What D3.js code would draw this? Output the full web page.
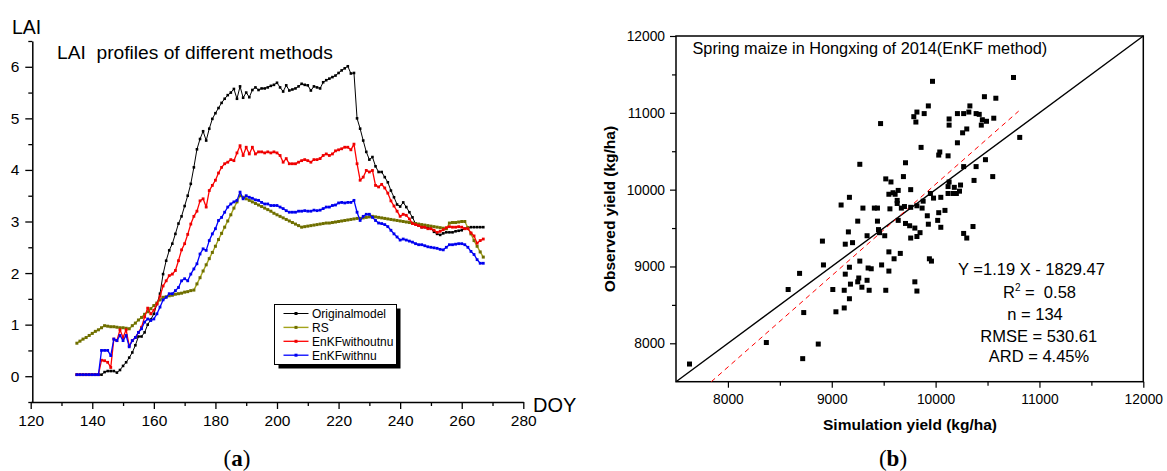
<!DOCTYPE html>
<html><head><meta charset="utf-8">
<script src="https://cdn.jsdelivr.net/npm/d3@7"></script>
<style>
body{margin:0;background:#fff}
svg{display:block}
text{font-family:Arial,"Liberation Sans",sans-serif;fill:#000;white-space:pre}
</style>
</head><body>
<svg id="c" width="1167" height="471"></svg>
<script>
// ---------- Panel (a) data ----------
const doyFirst = 135, doyLast = 267;
const seriesNames = ["Originalmodel","RS","EnKFwithoutnu","EnKFwithnu"];
const originalModel = [
0.03,0.03,0.03,0.03,0.03,0.03,0.03,0.03,0.03,
0.08,0.1,0.1,0.1,0.07,0.12,0.2,0.27,0.36,0.46,
0.6,0.77,0.77,0.85,1.0,1.1,1.21,1.4,1.6,1.98,
2.24,2.44,2.57,2.76,2.96,3.1,3.3,3.5,3.73,4.05,
4.4,4.6,4.75,4.57,4.8,4.99,5.1,5.2,5.3,5.38,
5.45,5.5,5.57,5.38,5.62,5.4,5.5,5.41,5.55,5.6,
5.55,5.58,5.58,5.6,5.63,5.65,5.69,5.6,5.52,5.64,
5.54,5.56,5.58,5.62,5.67,5.65,5.64,5.54,5.62,5.6,
5.58,5.7,5.74,5.77,5.8,5.83,5.88,5.93,5.97,6.01,
5.87,5.88,5.0,4.8,4.57,4.35,4.2,4.25,4.07,3.96,
3.96,3.86,3.76,3.6,3.47,3.33,3.29,3.37,3.28,3.18,
3.08,2.96,2.92,2.89,2.89,2.88,2.86,2.8,2.76,2.74,
2.77,2.79,2.79,2.79,2.81,2.82,2.83,2.86,2.88,2.89,
2.89,2.89,2.89,2.89];
const rsValues = [
0.64,0.68,0.72,0.75,0.79,0.83,0.87,0.9,0.94,0.98,
0.97,0.96,0.96,0.95,0.94,0.94,0.93,0.92,0.98,1.03,
1.09,1.14,1.2,1.25,1.31,1.37,1.42,1.48,1.53,1.54,
1.56,1.57,1.59,1.6,1.61,1.63,1.64,1.66,1.67,1.79,
1.91,2.04,2.16,2.28,2.4,2.52,2.65,2.77,2.89,3.01,
3.13,3.26,3.38,3.5,3.47,3.44,3.41,3.38,3.35,3.32,
3.29,3.26,3.23,3.2,3.16,3.13,3.1,3.07,3.04,3.01,
2.98,2.95,2.92,2.89,2.9,2.91,2.92,2.93,2.94,2.95,
2.96,2.97,2.97,2.98,2.99,3.0,3.01,3.02,3.03,3.04,
3.05,3.06,3.06,3.07,3.08,3.09,3.1,3.09,3.08,3.07,
3.06,3.05,3.04,3.03,3.02,3.01,3.0,2.99,2.98,2.97,
2.96,2.95,2.94,2.93,2.92,2.91,2.9,2.89,2.88,2.87,
2.86,2.97,2.98,2.98,2.99,3.0,3.0,2.88,2.76,2.63,
2.52,2.41,2.31];
const enkfWithoutNu = [
0.03,0.03,0.03,0.03,0.03,0.03,0.03,0.03,
0.31,0.3,0.27,0.17,0.72,0.69,0.9,0.75,0.9,0.59,
0.69,0.75,0.85,0.95,1.15,1.32,1.21,1.28,1.4,1.55,
1.75,1.85,1.95,1.98,2.05,2.24,2.45,2.57,2.75,2.95,
3.1,3.2,3.4,3.44,3.28,3.6,3.7,3.8,3.94,4.05,
4.12,4.15,4.2,4.18,4.33,4.47,4.28,4.44,4.31,4.44,
4.31,4.35,4.35,4.33,4.35,4.33,4.35,4.33,4.28,4.15,
4.22,4.12,4.12,4.12,4.15,4.18,4.2,4.18,4.15,4.2,
4.2,4.22,4.28,4.31,4.28,4.31,4.37,4.39,4.41,4.44,
4.44,4.39,4.5,4.12,3.8,3.86,3.99,3.96,3.99,3.7,
3.67,3.72,3.65,3.55,3.4,3.3,3.2,3.1,3.14,3.12,
3.05,2.96,2.94,2.92,2.89,2.89,2.86,2.86,2.83,2.79,
2.81,2.84,2.88,2.9,2.89,2.89,2.9,2.89,2.86,2.86,
2.78,2.72,2.58,2.63,2.66];
const enkfWithNu = [
0.03,0.03,0.03,0.03,0.03,0.03,0.03,0.03,
0.5,0.5,0.5,0.4,0.72,0.69,0.79,0.69,0.79,0.57,
0.69,0.75,0.85,0.92,1.05,1.11,1.08,1.11,1.21,1.34,
1.48,1.53,1.6,1.6,1.66,1.72,1.85,1.89,1.85,1.98,
2.08,2.18,2.37,2.47,2.44,2.63,2.76,2.86,3.02,3.08,
3.18,3.28,3.34,3.38,3.41,3.57,3.44,3.5,3.47,3.45,
3.42,3.41,3.37,3.34,3.34,3.31,3.31,3.31,3.28,3.25,
3.21,3.18,3.18,3.18,3.2,3.2,3.21,3.2,3.2,3.22,
3.21,3.22,3.25,3.28,3.28,3.31,3.32,3.36,3.37,3.36,
3.37,3.37,3.41,3.18,3.02,3.1,3.14,3.14,3.08,3.02,
2.97,2.96,2.94,2.9,2.83,2.76,2.7,2.64,2.66,2.64,
2.62,2.6,2.57,2.55,2.55,2.53,2.51,2.5,2.49,2.48,
2.46,2.45,2.5,2.55,2.55,2.56,2.57,2.57,2.55,2.5,
2.42,2.36,2.26,2.19,2.19];
const doyTicks = [120,140,160,180,200,220,240,260,280];
const laiTicks = [0,1,2,3,4,5,6];

// ---------- Panel (b) data ----------
const simulationYield = [
9470,9270,9520,9570,9170,9090,9300,9410,9440,9560,9550,9590,9610,9640,9630,9630,9250,9440,9640,9160,
9450,9460,9340,9510,8910,9130,9200,9550,9600,9660,9270,8920,9170,9350,9380,9480,8690,9130,9550,9260,
9340,9180,9250,9290,8580,9010,9120,9360,9520,9170,8730,9040,9120,8370,8870,8720,7630,
10750,9970,10470,10580,9930,9820,9890,9790,9810,10330,10210,10270,10320,10390,10420,10130,10130,10450,10490,10560,
10440,10300,10260,10810,10210,9860,10040,10030,10120,10480,9710,10270,10390,9690,10550,10370,10130,10120,10180,10240,
10230,10120,10170,10200,9760,9950,9980,10050,9880,9670,9700,9760,9820,9870,9920,10030,10090,9710,9750,9800,
9850,9930,10020,10050,9820,9760,10270,10300,10360,9940,9960,9800,9820];
const observedYield = [
10860,10330,10140,10100,9900,9800,9760,9760,9760,9750,9940,9960,9940,9990,9860,9820,9590,9590,9600,9450,
9480,9440,9400,9400,9330,9290,9310,9190,9100,9170,9070,9020,8990,8980,8970,9020,8910,8900,8940,8850,
8820,8770,8800,8730,8700,8700,8690,8690,8690,8580,8400,8410,8460,8010,7990,7800,7730,
11460,11410,11210,11190,11090,11010,10990,10950,10880,11090,10990,10990,11010,10990,10980,10920,10840,10910,10890,10930,
10840,10790,10740,10680,10610,10550,10490,10450,10440,10390,10350,10300,10300,10170,10170,10120,10100,10040,10030,10060,
9980,9950,9950,9950,10000,9950,9890,9900,9850,9760,9780,9770,9790,9760,9660,9700,9730,9560,9530,9500,
9440,9550,9600,9510,9390,9370,9430,9370,9520,9100,9070,8800,8680];
const yieldTicks = [8000,9000,10000,11000,12000];
const fitSlope = 1.19, fitIntercept = -1829.47;
const statsLines = ["Y =1.19 X - 1829.47","R","n = 134","RMSE = 530.61","ARD = 4.45%"];

// ---------- Drawing ----------
const svg = d3.select("#c");
const days = d3.range(doyFirst, doyLast + 1);
const FONT = "Arial, Liberation Sans, sans-serif";

// Panel (a)
const xA = d3.scaleLinear([120, 280], [30.7, 523.3]);
const yA = d3.scaleLinear([-0.5, 6.5], [402, 41]);
const gA = svg.append("g");

gA.append("g").attr("transform","translate(0,402)")
  .call(d3.axisBottom(xA).tickValues(d3.range(130,280,20)).tickSize(4).tickFormat("").tickSizeOuter(0))
  .call(g=>{g.select(".domain").remove(); g.selectAll("line").attr("stroke-width",1.3);});
gA.append("g").attr("transform","translate(32.3,0)")
  .call(d3.axisLeft(yA).tickValues(d3.range(-0.5,7,1)).tickSize(4).tickFormat("").tickSizeOuter(0))
  .call(g=>{g.select(".domain").remove(); g.selectAll("line").attr("stroke-width",1.3);});
gA.append("g").attr("transform","translate(0,402)")
  .call(d3.axisBottom(xA).tickValues(doyTicks).tickFormat(d3.format("d")).tickSize(7).tickSizeOuter(0).tickPadding(6))
  .call(g=>{g.select(".domain").attr("stroke-width",1.5); g.selectAll("line").attr("stroke-width",1.3);
            g.selectAll("text").attr("font-size",15.5).attr("font-family",FONT);});
gA.append("g").attr("transform","translate(32.3,0)")
  .call(d3.axisLeft(yA).tickValues(laiTicks).tickFormat(d3.format("d")).tickSize(7).tickSizeOuter(0).tickPadding(6))
  .call(g=>{g.select(".domain").attr("stroke-width",1.5); g.selectAll("line").attr("stroke-width",1.3);
            g.selectAll("text").attr("font-size",15.5).attr("font-family",FONT);});

gA.append("text").attr("x",12).attr("y",33.5).attr("font-size",19.5).text("LAI");
gA.append("text").attr("x",57).attr("y",59.3).attr("font-size",19.2).text("LAI  profiles of different methods");
gA.append("text").attr("x",533).attr("y",411.7).attr("font-size",20).text("DOY");

const seriesA = [
  {name: seriesNames[0], values: originalModel, color:"#000000", mc:"#000000", lw:1, ms:2.6},
  {name: seriesNames[1], values: rsValues, color:"#a3a31a", mc:"#6e6e00", lw:1.4, ms:3},
  {name: seriesNames[2], values: enkfWithoutNu, color:"#ff0000", mc:"#ee0000", lw:1.3, ms:2.8},
  {name: seriesNames[3], values: enkfWithNu, color:"#0000ff", mc:"#0000ee", lw:1.3, ms:2.8}
];
const lineA = d3.line().x((d,i)=>xA(days[i])).y(d=>yA(d));
seriesA.forEach(s=>{
  const g = gA.append("g");
  g.append("path").datum(s.values).attr("d",lineA).attr("fill","none")
   .attr("stroke",s.color).attr("stroke-width",s.lw).attr("stroke-linejoin","round");
  g.selectAll("rect").data(s.values).join("rect")
   .attr("x",(d,i)=>xA(days[i])-s.ms/2).attr("y",d=>yA(d)-s.ms/2)
   .attr("width",s.ms).attr("height",s.ms).attr("fill",s.mc);
});

// legend
const lg = gA.append("g");
lg.append("rect").attr("x",278.5).attr("y",308.5).attr("width",122).attr("height",60).attr("fill","#000");
lg.append("rect").attr("x",274.5).attr("y",304.5).attr("width",122).attr("height",60)
  .attr("fill","#fff").attr("stroke","#000").attr("stroke-width",1);
seriesA.forEach((s,i)=>{
  const y = 313.5 + i*13.9;
  lg.append("line").attr("x1",283.5).attr("x2",308.5).attr("y1",y).attr("y2",y)
    .attr("stroke",s.color).attr("stroke-width",s.lw);
  lg.append("rect").attr("x",296-1.5).attr("y",y-1.5).attr("width",3).attr("height",3).attr("fill",s.mc);
  lg.append("text").attr("x",312).attr("y",y).attr("dy","0.36em").attr("font-size",12).text(s.name);
});

// Panel (b)
const xB = d3.scaleLinear([7500, 12000], [676, 1143.3]);
const yB = d3.scaleLinear([7500, 12000], [381.7, 36]);
const gB = svg.append("g");

gB.append("g").attr("transform","translate(0,381.7)")
  .call(d3.axisBottom(xB).tickValues(d3.range(8500,12000,1000)).tickSize(4).tickFormat("").tickSizeOuter(0))
  .call(g=>{g.select(".domain").remove(); g.selectAll("line").attr("stroke-width",1.2);});
gB.append("g").attr("transform","translate(676,0)")
  .call(d3.axisLeft(yB).tickValues(d3.range(8500,12000,1000)).tickSize(4).tickFormat("").tickSizeOuter(0))
  .call(g=>{g.select(".domain").remove(); g.selectAll("line").attr("stroke-width",1.2);});
gB.append("g").attr("transform","translate(0,381.7)")
  .call(d3.axisBottom(xB).tickValues(yieldTicks).tickFormat(d3.format("d")).tickSize(6).tickSizeOuter(0).tickPadding(7))
  .call(g=>{g.select(".domain").remove(); g.selectAll("line").attr("stroke-width",1.2);
            g.selectAll("text").attr("font-size",13.8).attr("font-family",FONT);});
gB.append("g").attr("transform","translate(676,0)")
  .call(d3.axisLeft(yB).tickValues(yieldTicks).tickFormat(d3.format("d")).tickSize(6).tickSizeOuter(0).tickPadding(5))
  .call(g=>{g.select(".domain").remove(); g.selectAll("line").attr("stroke-width",1.2);
            g.selectAll("text").attr("font-size",13.8).attr("font-family",FONT);});
gB.append("rect").attr("x",xB(7500)).attr("y",yB(12000)).attr("width",xB(12000)-xB(7500))
  .attr("height",yB(7500)-yB(12000)).attr("fill","none").attr("stroke","#000").attr("stroke-width",1.5);

gB.append("line").attr("x1",xB(7500)).attr("y1",yB(7500)).attr("x2",xB(12000)).attr("y2",yB(12000))
  .attr("stroke","#000").attr("stroke-width",1.4);
const fitX0 = (7500 - fitIntercept)/fitSlope, fitX1 = 10800;
gB.append("line").attr("x1",xB(fitX0)).attr("y1",yB(fitSlope*fitX0+fitIntercept))
  .attr("x2",xB(fitX1)).attr("y2",yB(fitSlope*fitX1+fitIntercept))
  .attr("stroke","#ff0000").attr("stroke-width",1).attr("stroke-dasharray","5,4");

gB.selectAll("rect.pt").data(simulationYield).join("rect").attr("class","pt")
  .attr("x",(d)=>xB(d)-2.5).attr("y",(d,i)=>yB(observedYield[i])-2.5)
  .attr("width",5).attr("height",5).attr("fill","#000");

gB.append("text").attr("x",692.5).attr("y",54.3).attr("font-size",16.3)
  .text("Spring maize in Hongxing of 2014(EnKF method)");

const st = gB.append("g").attr("font-size",16.5).attr("text-anchor","middle");
st.append("text").attr("x",1031.5).attr("y",275).text(statsLines[0]);
const r2 = st.append("text").attr("x",1039.5).attr("y",298.3);
r2.append("tspan").text(statsLines[1]);
r2.append("tspan").attr("font-size",10).attr("dy",-7).text("2");
r2.append("tspan").attr("dy",7).text(" =  0.58");
st.append("text").attr("x",1035).attr("y",320).text(statsLines[2]);
st.append("text").attr("x",1038.7).attr("y",341.7).text(statsLines[3]);
st.append("text").attr("x",1039).attr("y",361.7).text(statsLines[4]);

gB.append("text").attr("x",910).attr("y",430).attr("text-anchor","middle")
  .attr("font-size",15.5).attr("font-weight","bold").text("Simulation yield (kg/ha)");
gB.append("text").attr("transform","translate(615,209) rotate(-90)").attr("text-anchor","middle")
  .attr("font-size",15.5).attr("font-weight","bold").text("Observed yield (kg/ha)");

[["a",237],["b",893]].forEach(([l,x])=>{
  const t = svg.append("text").attr("x",x).attr("y",466).attr("text-anchor","middle")
    .attr("font-size",23).style("font-family","'Liberation Serif','DejaVu Serif',serif");
  t.append("tspan").text("(");
  t.append("tspan").attr("font-weight","bold").text(l);
  t.append("tspan").text(")");
});
</script>
</body></html>
